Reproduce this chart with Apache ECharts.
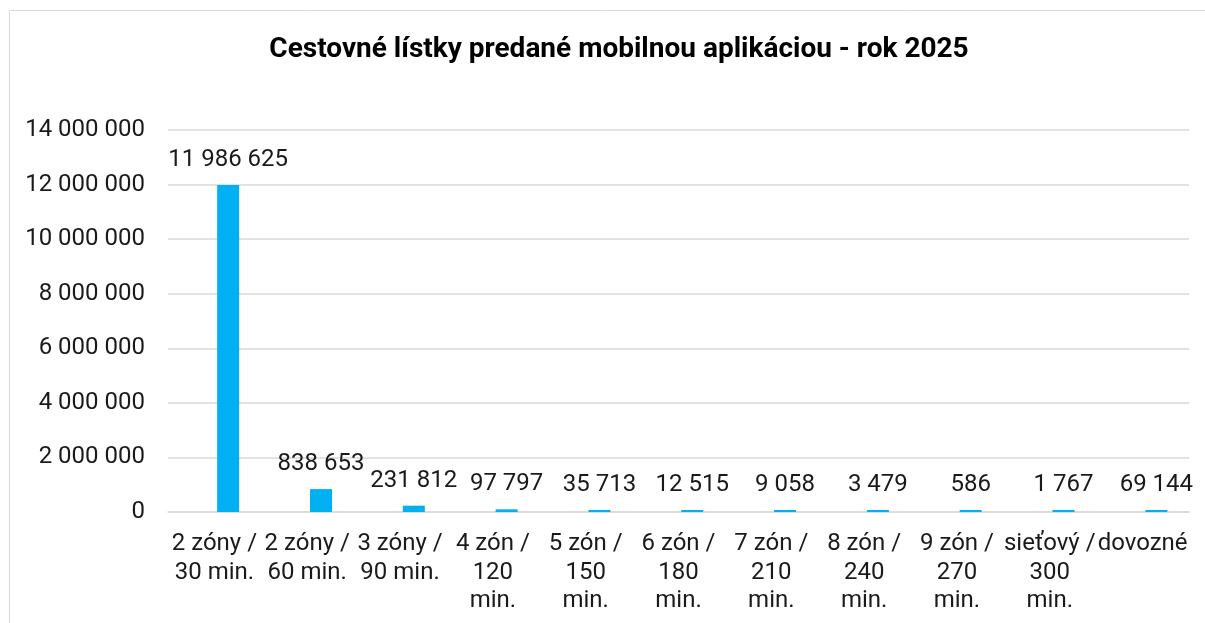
<!DOCTYPE html>
<html><head><meta charset="utf-8">
<script src="https://cdn.jsdelivr.net/npm/echarts@6/dist/echarts.min.js"></script>
<style>html,body{margin:0;padding:0;background:#fff}#c{width:1205px;height:623px}</style>
</head><body><div id="c"></div>
<script>
const titleText = 'Cestovné lístky predané mobilnou aplikáciou - rok 2025';
const categories = ['2 zóny /\n30 min.','2 zóny /\n60 min.','3 zóny /\n90 min.','4 zón /\n120\nmin.','5 zón /\n150\nmin.','6 zón /\n180\nmin.','7 zón /\n210\nmin.','8 zón /\n240\nmin.','9 zón /\n270\nmin.','sieťový /\n300\nmin.','dovozné'];
const tickets = [11986625, 838653, 231812, 97797, 35713, 12515, 9058, 3479, 586, 1767, 69144];
const emptySeries = categories.map(() => null);
const fmt = v => String(v).replace(/\B(?=(\d{3})+(?!\d))/g, ' ');
const chart = echarts.init(document.getElementById('c'));
chart.setOption({
  animation: false,
  textStyle: { fontFamily: 'Roboto' },
  graphic: [{ type: 'rect', shape: { x: 9.5, y: 10.5, width: 1300, height: 700 }, style: { fill: 'none', stroke: '#d9d9d9', lineWidth: 1 } }],
  title: { text: titleText, left: 614, top: 31, textAlign: 'center',
    textStyle: { fontFamily: 'Roboto', fontWeight: 'bold', fontSize: 28, color: '#000' } },
  grid: { left: 168, right: 16, top: 130, bottom: 111, containLabel: false },
  xAxis: { type: 'category', data: categories,
    axisLine: { show: true, lineStyle: { color: '#d9d9d9', width: 1.5 } },
    axisTick: { show: false },
    axisLabel: { interval: 0, color: '#1a1a1a', fontSize: 24, lineHeight: 28.5, margin: 18, fontFamily: 'Roboto' } },
  yAxis: { type: 'value', min: 0, max: 14000000, interval: 2000000,
    axisLine: { show: false }, axisTick: { show: false },
    splitLine: { lineStyle: { color: '#d9d9d9', width: 1.5 } },
    axisLabel: { color: '#1a1a1a', fontSize: 24, margin: 23, formatter: fmt, fontFamily: 'Roboto' } },
  series: [
    { type: 'bar', name: '', data: emptySeries, barWidth: 22, barGap: '25%' },
    { type: 'bar', name: 'Predané lístky', data: tickets, barWidth: 22, barGap: '25%', barMinHeight: 2,
      itemStyle: { color: '#00B0F0' },
      label: { show: true, position: 'top', distance: 13, color: '#1a1a1a', fontSize: 24, fontFamily: 'Roboto',
        formatter: p => fmt(p.value) } }
  ]
});
</script></body></html>
